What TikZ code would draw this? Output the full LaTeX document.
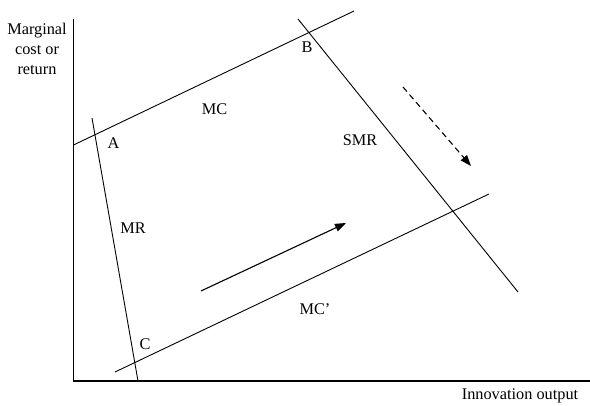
\documentclass[tikz,border=0pt]{standalone}
\usepackage{fontspec}
\setmainfont{Liberation Serif}
\usetikzlibrary{arrows.meta}
\begin{document}
\begin{tikzpicture}[x=1pt,y=-1pt,
  lbl/.style={font=\fontsize{16.3}{20}\selectfont, inner sep=0pt, anchor=center},
  axis/.style={line width=1.3pt},
  curve/.style={line width=0.9pt},
  movearrow/.style={line width=1.1pt,-{Triangle[length=11pt,width=8pt]}}]
\useasboundingbox (0,0) rectangle (590,406);
% axes
\coordinate (ytop) at (73.5,19);
\coordinate (orig) at (73.5,381);
\coordinate (xend) at (590,381);
\draw[axis] (ytop) -- (orig) -- (xend);
% curves
\coordinate (mc1) at (73.5,145);
\coordinate (mc2) at (354,11);
\coordinate (smr1) at (298,19);
\coordinate (smr2) at (518,292);
\coordinate (mr1) at (92,118);
\coordinate (mr2) at (138,381);
\coordinate (mcp1) at (115,372);
\coordinate (mcp2) at (489,194);
\draw[curve] (mc1) -- (mc2);
\draw[curve] (smr1) -- (smr2);
\draw[curve] (mr1) -- (mr2);
\draw[curve] (mcp1) -- (mcp2);
% shift arrows
\coordinate (s1) at (201,291);
\coordinate (s2) at (346,223);
\coordinate (d1) at (403,87);
\coordinate (d2) at (471,166);
\draw[movearrow] (s1) -- (s2);
\draw[movearrow,dash pattern=on 6pt off 4pt] (d1) -- (d2);
% labels
\node[lbl, align=center] (ylab) at (37,49) {Marginal\\cost or\\return};
\node[lbl] (xlab) at (520,396) {Innovation output};
\node[lbl] (A) at (113.5,143) {A};
\node[lbl] (B) at (307,47.5) {B};
\node[lbl] (C) at (145,344) {C};
\node[lbl] (MC) at (214.5,109) {MC};
\node[lbl] (SMR) at (360,140) {SMR};
\node[lbl] (MR) at (133,228) {MR};
\node[lbl] (MCp) at (315,309) {MC’};
\end{tikzpicture}
\end{document}
